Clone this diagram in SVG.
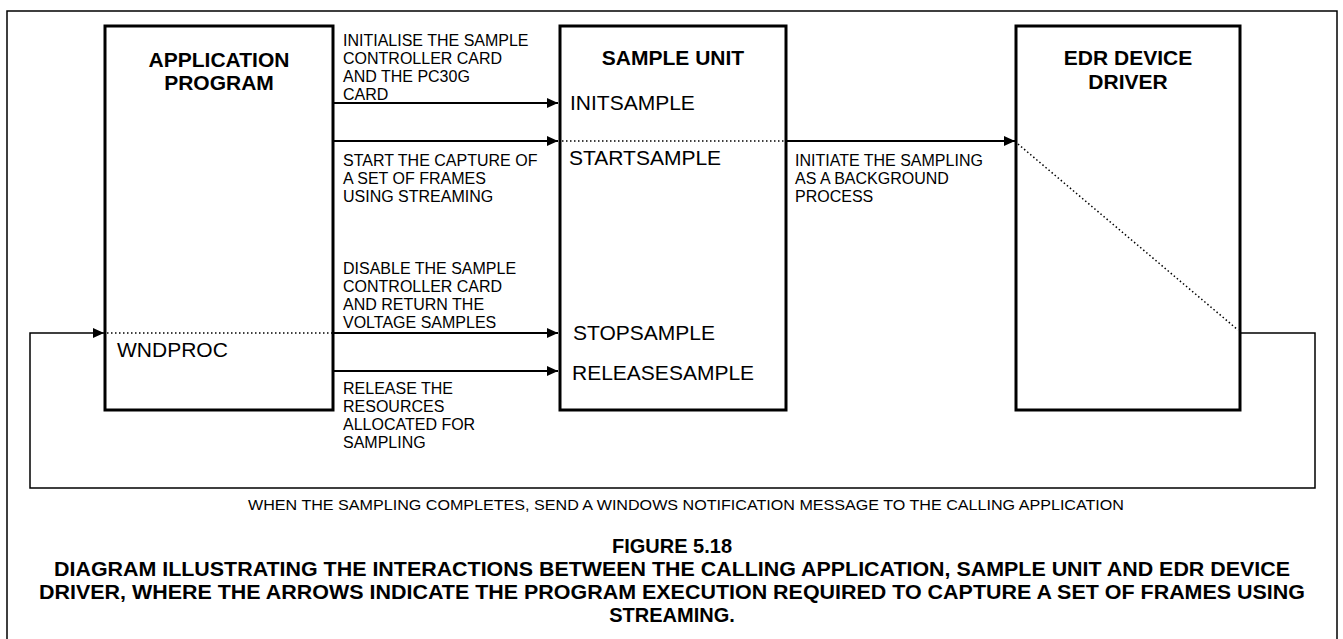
<svg xmlns="http://www.w3.org/2000/svg" width="1343" height="639" viewBox="0 0 1343 639">
<style>
.box{fill:#fff;stroke:#000;stroke-width:3}
.frame{fill:none;stroke:#000;stroke-width:1.5}
.arr{fill:none;stroke:#000;stroke-width:2}
.loop{fill:none;stroke:#000;stroke-width:1.5}
.dot{fill:none;stroke:#000;stroke-width:1.5;stroke-dasharray:1.5 2.5}
.title{font-family:"Liberation Sans",Arial,sans-serif;font-weight:bold;font-size:21px;text-anchor:middle}
.fn{font-family:"Liberation Sans",Arial,sans-serif;font-size:21px}
.lbl{font-family:"Liberation Sans",Arial,sans-serif;font-size:16px}
.note{font-family:"Liberation Sans",Arial,sans-serif;font-size:14px;text-anchor:middle}
.cap{font-family:"Liberation Sans",Arial,sans-serif;font-weight:bold;font-size:20px;text-anchor:middle}
</style>
<defs>
<marker id="ah" markerUnits="userSpaceOnUse" markerWidth="11" markerHeight="10" refX="11" refY="5" orient="auto">
<path d="M0,0 L11,5 L0,10 Z" fill="#000"/>
</marker>
</defs>
<rect x="0" y="0" width="1343" height="639" fill="#fff"/>
<rect class="frame" x="7" y="11" width="1330" height="640"/>

<g id="app">
<rect class="box" x="105" y="26" width="228" height="384"/>
<text class="title" x="219" y="67">APPLICATION</text>
<text class="title" x="219" y="90">PROGRAM</text>
<text class="fn" x="117" y="357">WNDPROC</text>
</g>

<g id="sample">
<rect class="box" x="560" y="26" width="226" height="384"/>
<text class="title" x="673" y="65">SAMPLE UNIT</text>
<text class="fn" x="570" y="110">INITSAMPLE</text>
<text class="fn" x="569" y="165">STARTSAMPLE</text>
<text class="fn" x="573" y="340">STOPSAMPLE</text>
<text class="fn" x="572" y="380">RELEASESAMPLE</text>
</g>

<g id="edr">
<rect class="box" x="1016" y="26" width="224" height="384"/>
<text class="title" x="1128" y="65">EDR DEVICE</text>
<text class="title" x="1128" y="89">DRIVER</text>
</g>

<g id="connectors">
<line class="arr" x1="333" y1="103" x2="558" y2="103" marker-end="url(#ah)"/>
<line class="arr" x1="333" y1="141" x2="558" y2="141" marker-end="url(#ah)"/>
<line class="dot" x1="562" y1="141" x2="786" y2="141"/>
<line class="arr" x1="786" y1="141" x2="1015" y2="141" marker-end="url(#ah)"/>
<line class="dot" x1="1018" y1="144" x2="1238" y2="330"/>
<polyline class="loop" points="1240,333 1315,333 1315,488 30,488 30,333 104,333" marker-end="url(#ah)"/>
<line class="dot" x1="107" y1="333" x2="333" y2="333"/>
<line class="arr" x1="333" y1="333" x2="558" y2="333" marker-end="url(#ah)"/>
<line class="arr" x1="333" y1="371" x2="558" y2="371" marker-end="url(#ah)"/>
</g>

<g id="labels">
<text class="lbl" x="343" y="46">INITIALISE THE SAMPLE</text>
<text class="lbl" x="343" y="64">CONTROLLER CARD</text>
<text class="lbl" x="343" y="82">AND THE PC30G</text>
<text class="lbl" x="343" y="100">CARD</text>
<text class="lbl" x="343" y="166">START THE CAPTURE OF</text>
<text class="lbl" x="343" y="184">A SET OF FRAMES</text>
<text class="lbl" x="343" y="202">USING STREAMING</text>
<text class="lbl" x="795" y="166">INITIATE THE SAMPLING</text>
<text class="lbl" x="795" y="184">AS A BACKGROUND</text>
<text class="lbl" x="795" y="202">PROCESS</text>
<text class="lbl" x="343" y="274">DISABLE THE SAMPLE</text>
<text class="lbl" x="343" y="292">CONTROLLER CARD</text>
<text class="lbl" x="343" y="310">AND RETURN THE</text>
<text class="lbl" x="343" y="328">VOLTAGE SAMPLES</text>
<text class="lbl" x="343" y="394">RELEASE THE</text>
<text class="lbl" x="343" y="412">RESOURCES</text>
<text class="lbl" x="343" y="430">ALLOCATED FOR</text>
<text class="lbl" x="343" y="448">SAMPLING</text>
</g>

<g id="caption">
<text class="note" x="686" y="510" textLength="876" lengthAdjust="spacingAndGlyphs">WHEN THE SAMPLING COMPLETES, SEND A WINDOWS NOTIFICATION MESSAGE TO THE CALLING APPLICATION</text>
<text class="cap" x="672" y="553">FIGURE 5.18</text>
<text class="cap" x="672" y="576" textLength="1236" lengthAdjust="spacingAndGlyphs">DIAGRAM ILLUSTRATING THE INTERACTIONS BETWEEN THE CALLING APPLICATION, SAMPLE UNIT AND EDR DEVICE</text>
<text class="cap" x="672" y="599" textLength="1266" lengthAdjust="spacingAndGlyphs">DRIVER, WHERE THE ARROWS INDICATE THE PROGRAM EXECUTION REQUIRED TO CAPTURE A SET OF FRAMES USING</text>
<text class="cap" x="672" y="622">STREAMING.</text>
</g>
</svg>
